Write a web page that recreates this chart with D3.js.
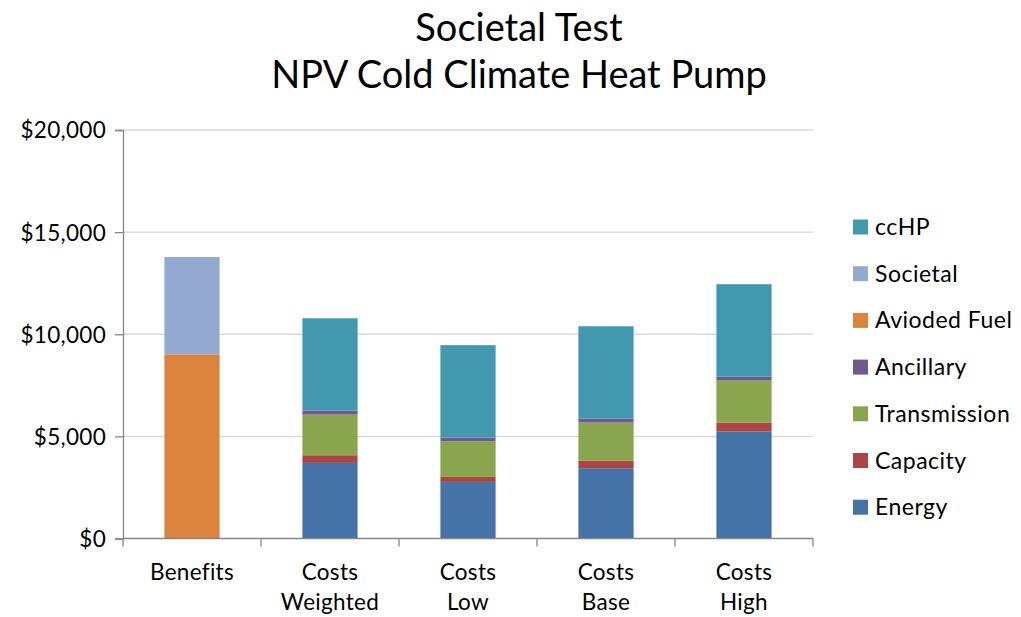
<!DOCTYPE html>
<html>
<head>
<meta charset="utf-8">
<script src="https://cdn.jsdelivr.net/npm/d3@7"></script>
<style>
  html, body { margin: 0; padding: 0; background: #fff; }
  svg text { font-family: Lato, "Open Sans", sans-serif; fill: #000; }
</style>
</head>
<body>
<svg id="chart" width="1021" height="617"></svg>
<script>
// Categories (two-line axis labels) and stacked series values, in dollars
const categories = ["Benefits", "Costs Weighted", "Costs Low", "Costs Base", "Costs High"];
const categoryLines = [["Benefits"], ["Costs", "Weighted"], ["Costs", "Low"], ["Costs", "Base"], ["Costs", "High"]];

const energy       = [0, 3700, 2770, 3440, 5240];
const capacity     = [0, 377, 245, 377, 440];
const transmission = [0, 1990, 1750, 1860, 2055];
const ancillary    = [0, 195, 180, 195, 195];
const avoidedFuel  = [9020, 0, 0, 0, 0];
const societal     = [4760, 0, 0, 0, 0];
const ccHP         = [0, 4520, 4520, 4520, 4520];

const yTicks = [0, 5000, 10000, 15000, 20000];

// Series in stacking order (bottom to top)
const seriesNames = ["Energy", "Capacity", "Transmission", "Ancillary", "Avioded Fuel", "Societal", "ccHP"];
const seriesValues = [energy, capacity, transmission, ancillary, avoidedFuel, societal, ccHP];
const seriesColors = ["#4572A7", "#AA4643", "#89A54E", "#71588F", "#DB843D", "#93A9CF", "#4198AF"];

const rows = categories.map((c, i) => {
  const r = { category: c };
  seriesNames.forEach((s, k) => { r[s] = seriesValues[k][i]; });
  return r;
});

const svg = d3.select("#chart");
const plot = { left: 123, right: 813, top: 130, bottom: 538.5 };

const x = d3.scaleBand()
  .domain(categories)
  .range([plot.left, plot.right])
  .paddingInner(0.6)
  .paddingOuter(0.3);

const y = d3.scaleLinear().domain([0, 20000]).range([plot.bottom, plot.top]);

// Gridlines
svg.append("g")
  .selectAll("line")
  .data(yTicks.filter(d => d > 0))
  .join("line")
  .attr("x1", plot.left).attr("x2", plot.right)
  .attr("y1", d => y(d)).attr("y2", d => y(d))
  .attr("stroke", "#d9d9d9").attr("stroke-width", 1.3);

// Stacked bars
const stacked = d3.stack().keys(seriesNames)(rows);
svg.append("g")
  .selectAll("g")
  .data(stacked)
  .join("g")
  .attr("fill", (d, i) => seriesColors[i])
  .selectAll("rect")
  .data(d => d.filter(p => p[1] - p[0] > 0))
  .join("rect")
  .attr("x", d => x(d.data.category))
  .attr("width", x.bandwidth())
  .attr("y", d => y(d[1]))
  .attr("height", d => y(d[0]) - y(d[1]));

// Y axis
const yAxis = d3.axisLeft(y)
  .tickValues(yTicks)
  .tickSize(8)
  .tickPadding(9)
  .tickFormat(d => "$" + d3.format(",")(d));
const gy = svg.append("g").attr("transform", `translate(${plot.left},0)`).call(yAxis);
gy.select(".domain").attr("stroke", "#868686").attr("stroke-width", 1.3);
gy.selectAll(".tick line").attr("stroke", "#868686").attr("stroke-width", 1.3);
gy.selectAll(".tick text").attr("font-size", 22.5).attr("dy", "0.35em").attr("letter-spacing", 0.3);

// X axis with boundary ticks between categories
const gx = svg.append("g");
gx.append("line")
  .attr("x1", plot.left).attr("x2", plot.right)
  .attr("y1", plot.bottom).attr("y2", plot.bottom)
  .attr("stroke", "#868686").attr("stroke-width", 1.3);
const step = x.step();
const boundaries = d3.range(categories.length + 1).map(i => x(categories[0]) - step * 0.3 + i * step);
gx.selectAll("line.tick")
  .data(boundaries)
  .join("line")
  .attr("class", "tick")
  .attr("x1", d => d).attr("x2", d => d)
  .attr("y1", plot.bottom).attr("y2", plot.bottom + 8)
  .attr("stroke", "#868686").attr("stroke-width", 1.3);

categories.forEach((c, i) => {
  const t = gx.append("text")
    .attr("x", x(c) + x.bandwidth() / 2)
    .attr("y", 580)
    .attr("text-anchor", "middle")
    .attr("font-size", 22.5)
    .attr("letter-spacing", 0.3);
  categoryLines[i].forEach((line, j) => {
    t.append("tspan")
      .attr("x", x(c) + x.bandwidth() / 2)
      .attr("dy", j === 0 ? 0 : 30)
      .text(line);
  });
});

// Title
svg.append("text")
  .attr("x", 519).attr("y", 41)
  .attr("text-anchor", "middle")
  .attr("font-size", 38)
  .text("Societal Test");
svg.append("text")
  .attr("x", 519).attr("y", 88)
  .attr("text-anchor", "middle")
  .attr("font-size", 38)
  .text("NPV Cold Climate Heat Pump");

// Legend (top-to-bottom reverses the stacking order)
const legendItems = seriesNames.map((s, i) => ({ name: s, color: seriesColors[i] })).reverse();
const legend = svg.append("g")
  .selectAll("g")
  .data(legendItems)
  .join("g")
  .attr("transform", (d, i) => `translate(853, ${227 + i * 46.7})`);
legend.append("rect")
  .attr("x", 0).attr("y", -7.5)
  .attr("width", 15).attr("height", 15)
  .attr("fill", d => d.color);
legend.append("text")
  .attr("x", 22).attr("y", 0)
  .attr("dy", "0.35em")
  .attr("font-size", 23)
  .attr("letter-spacing", 0.5)
  .text(d => d.name);
</script>
</body>
</html>
